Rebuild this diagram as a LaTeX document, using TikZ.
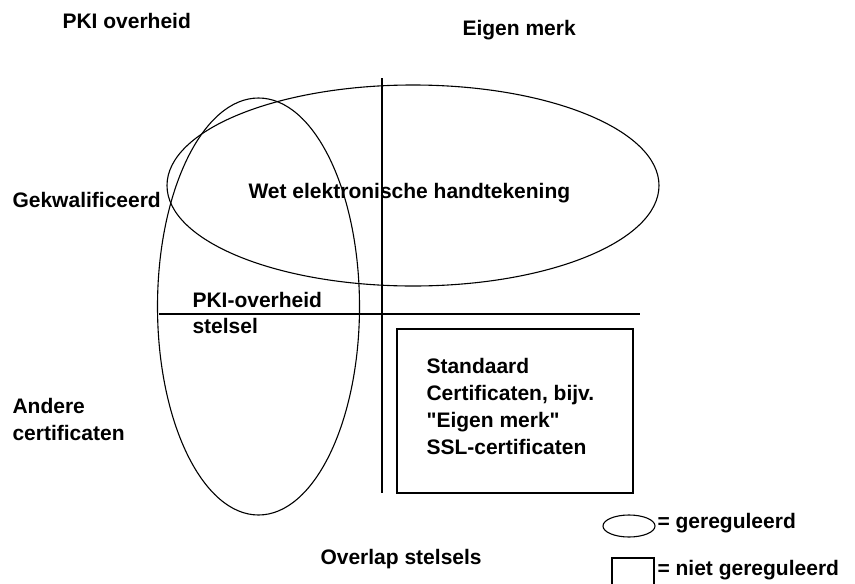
\documentclass[tikz,border=0pt]{standalone}
\usepackage{fontspec}
\setmainfont{Liberation Sans}[Ligatures=TeXOff]
\usetikzlibrary{
		calc,
		positioning
	}
\tikzset{
		label/.style={anchor=base west, inner sep=0pt, align=left, font=\bfseries\fontsize{21}{27}\selectfont},
		rule/.style={line width=1.1pt}
	}

\begin{document}
\begin{tikzpicture}[x=1pt, y=-1pt, rule] % (1 unit = 1 pixel of the reference, y runs downwards)
		\clip (0,0) rectangle (855,584);
		% axes of the two stelsels
		\draw (382,78) -- (382,493);
		\draw (159,314) -- (640,314);
		% gereguleerd: ellipses, niet gereguleerd: box
		\draw (413,185.5) ellipse [x radius=246, y radius=100.5];
		\draw (258.5,306.5) ellipse [x radius=101, y radius=208.5];
		\draw (397,329) rectangle (633,493);
		% labels (multi-line ones sit on the baseline of their last line)
		\node[label] (pki) at (62,28) {PKI overheid};
		\node[label] (eigen) at (462,35) {Eigen merk};
		\node[label] (gekw) at (12,207) {Gekwalificeerd};
		\node[label] (wet) at (248,198) {Wet elektronische handtekening};
		\node[label] (stelsel) at (192,333) {PKI-overheid\\[-1pt]stelsel};
		\node[label] (andere) at (12,440) {Andere\\certificaten};
		\node[label] (standaard) at (426,454) {Standaard\\Certificaten, bijv.\\"Eigen merk"\\SSL-certificaten};
		\node[label] (overlap) at (320,564) {Overlap stelsels};
		% legend
		\draw (629,526) ellipse [x radius=26, y radius=11];
		\draw (612,558) rectangle (654,600);
		\foreach \y/\t in {528/gereguleerd, 575/niet gereguleerd}{
			\node[label] at (657,\y) {= \t};
		}
	\end{tikzpicture}
\end{document}
